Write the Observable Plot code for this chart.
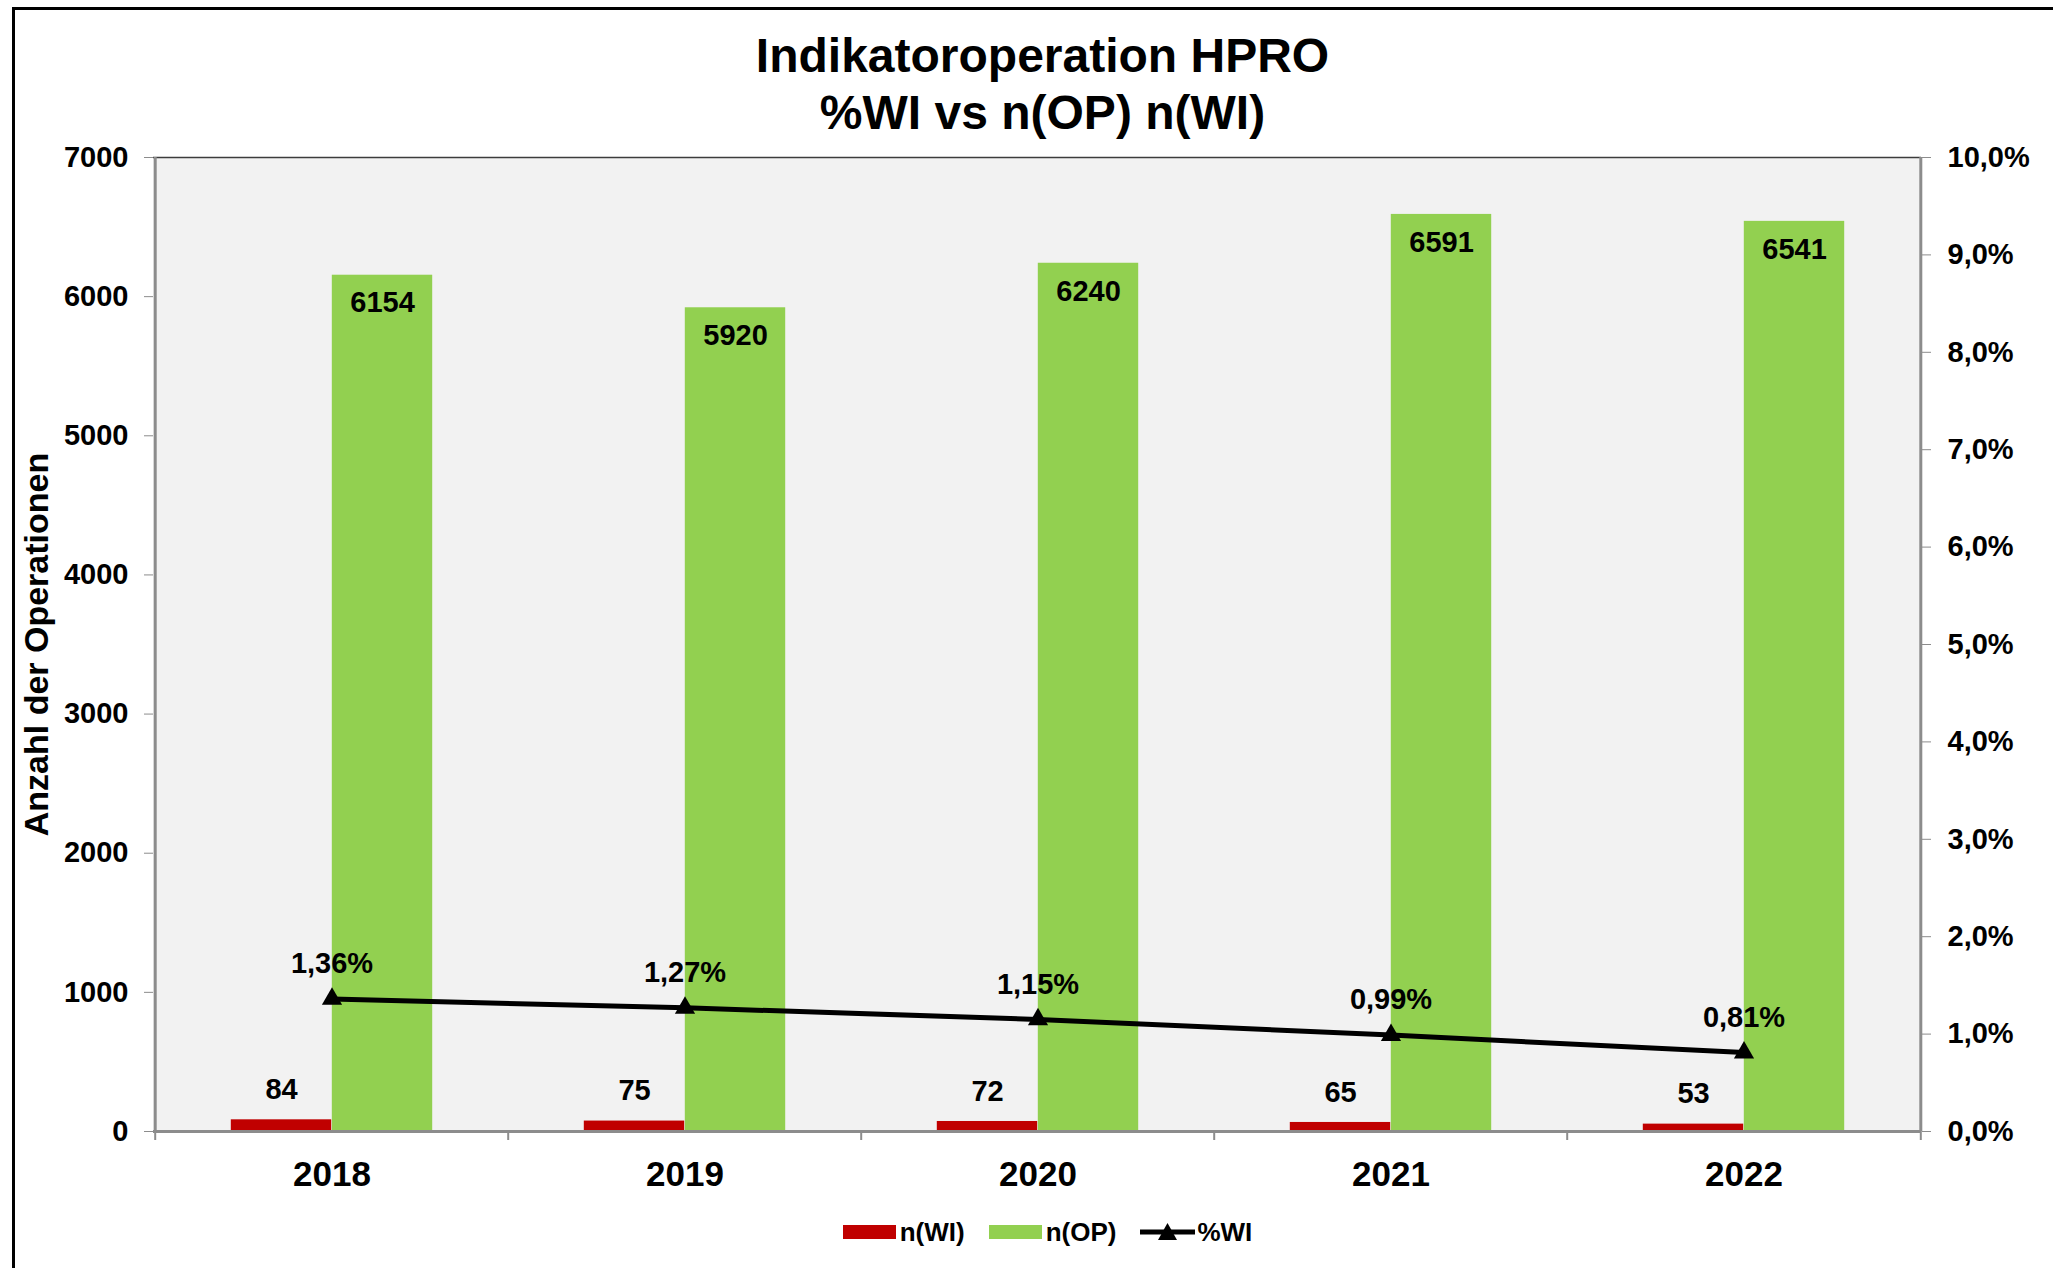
<!DOCTYPE html>
<html>
<head>
<meta charset="utf-8">
<script src="https://cdn.jsdelivr.net/npm/d3@7"></script>
<script src="https://cdn.jsdelivr.net/npm/@observablehq/plot@0.6"></script>
<style>
  html, body { margin: 0; padding: 0; background: #fff; overflow: hidden; }
  body { font-family: "Liberation Sans", Arial, sans-serif; }
  #wrap { position: relative; width: 2053px; height: 1268px; }
  #border { position: absolute; left: 12px; top: 7px; right: -20px; bottom: -20px; border: 3px solid #000; pointer-events: none; }
  #title { position: relative; height: 140px; box-sizing: border-box; padding-top: 27px; padding-left: 32px;
           text-align: center; font-weight: bold; font-size: 48px; line-height: 57px; color: #000; }
  #chart { position: relative; height: 1060px; }
  #legend { position: relative; display: flex; justify-content: center; align-items: center; gap: 0;
            padding-left: 42px; height: 64px; font-weight: bold; font-size: 26px; color: #000; }
  .item { display: flex; align-items: center; margin: 0 12px; }
  .sw { display: inline-block; width: 53px; height: 14px; margin-right: 4px; }
</style>
</head>
<body>
<div id="wrap">
  <div id="border"></div>
  <div id="title">Indikatoroperation HPRO<br>%WI vs n(OP) n(WI)</div>
  <div id="chart"></div>
  <div id="legend"></div>
</div>
<script>
// ---- data ----
const years = ["2018", "2019", "2020", "2021", "2022"];
const nWI = [84, 75, 72, 65, 53];
const nOP = [6154, 5920, 6240, 6591, 6541];
const pctWI = [1.36, 1.27, 1.15, 0.99, 0.81];
const leftTicks = [0, 1000, 2000, 3000, 4000, 5000, 6000, 7000];
const rightTicks = [0, 1, 2, 3, 4, 5, 6, 7, 8, 9, 10];
const seriesNames = ["n(WI)", "n(OP)", "%WI"];
const seriesColors = ["#C00000", "#92D050", "#000000"];

// ---- layout ----
const W = 2053, H = 1060, mL = 153, mR = 132, mT = 17, mB = 69;
const yMax = 7000, pMax = 10;
const bw = (W - mL - mR) / years.length;
const barW = 101;
const toY = p => p * yMax / pMax;

const data = years.map((year, i) => ({year, wi: nWI[i], op: nOP[i], pct: pctWI[i]}));
const axisGray = "#8c8c8c";

const chart = Plot.plot({
  width: W, height: H,
  marginLeft: mL, marginRight: mR, marginTop: mT, marginBottom: mB,
  x: {domain: years, padding: 0, axis: null},
  y: {domain: [0, yMax], axis: null},
  style: {fontFamily: '"Liberation Sans", Arial, sans-serif', fontWeight: "bold", color: "#000", background: "transparent", overflow: "visible"},
  marks: [
    Plot.frame({fill: "#F2F2F2", stroke: null}),
    Plot.ruleY([yMax], {stroke: "#3c3c3c", strokeWidth: 1.5}),
    Plot.barY(data, {x: "year", y: "wi", fill: seriesColors[0], insetLeft: bw / 2 - barW, insetRight: bw / 2}),
    Plot.barY(data, {x: "year", y: "op", fill: seriesColors[1], insetLeft: bw / 2, insetRight: bw / 2 - barW}),
    // axis lines
    Plot.ruleY([0], {stroke: axisGray, strokeWidth: 3}),
    Plot.ruleX([years[0]], {stroke: axisGray, strokeWidth: 3, dx: -bw / 2}),
    Plot.ruleX([years[years.length - 1]], {stroke: axisGray, strokeWidth: 3, dx: bw / 2}),
    // category boundary ticks
    Plot.ruleX(years, {x: d => d, y1: 0, y2: 0, insetTop: 0, insetBottom: -9, dx: -bw / 2, stroke: axisGray, strokeWidth: 2}),
    Plot.ruleX([years[years.length - 1]], {x: d => d, y1: 0, y2: 0, insetTop: 0, insetBottom: -9, dx: bw / 2, stroke: axisGray, strokeWidth: 2}),
    // axes
    Plot.axisY({anchor: "left", ticks: leftTicks, tickFormat: d => String(d), tickSize: 9, tickPadding: 16,
                fontSize: 29, fontWeight: "bold", stroke: axisGray, label: null}),
    Plot.axisY({anchor: "right", ticks: rightTicks.map(toY), tickFormat: d => (d * pMax / yMax).toFixed(1).replace(".", ",") + "%",
                tickSize: 9, tickPadding: 17, fontSize: 29, fontWeight: "bold", stroke: axisGray, label: null}),
    Plot.axisX({anchor: "bottom", tickSize: 0, tickPadding: 30, fontSize: 35, fontWeight: "bold", label: null}),
    Plot.text(["Anzahl der Operationen"], {frameAnchor: "left", textAnchor: "middle", rotate: -90, dx: -116, fontSize: 34, fontWeight: "bold", fill: "#000"}),
    // percentage line
    Plot.line(data, {x: "year", y: d => toY(d.pct), stroke: seriesColors[2], strokeWidth: 5}),
    Plot.dot(data, {x: "year", y: d => toY(d.pct), symbol: "triangle", r: 7.5, fill: "#000", stroke: null}),
    // labels
    Plot.text(data, {x: "year", y: "op", text: d => String(d.op), dx: barW / 2, dy: 28, fontSize: 29, fontWeight: "bold", fill: "#000"}),
    Plot.text(data, {x: "year", y: "wi", text: d => String(d.wi), dx: -barW / 2, dy: -30, fontSize: 29, fontWeight: "bold", fill: "#000"}),
    Plot.text(data, {x: "year", y: d => toY(d.pct), text: d => d.pct.toFixed(2).replace(".", ",") + "%", dy: -35, fontSize: 29, fontWeight: "bold", fill: "#000"})
  ]
});
document.getElementById("chart").appendChild(chart);

// ---- legend ----
const legend = document.getElementById("legend");
seriesNames.forEach((name, i) => {
  const item = document.createElement("div");
  item.className = "item";
  if (i < 2) {
    const sw = document.createElement("span");
    sw.className = "sw";
    sw.style.background = seriesColors[i];
    item.appendChild(sw);
  } else {
    const ns = "http://www.w3.org/2000/svg";
    const svg = document.createElementNS(ns, "svg");
    svg.setAttribute("width", 55); svg.setAttribute("height", 22);
    svg.style.marginRight = "2px";
    const ln = document.createElementNS(ns, "line");
    ln.setAttribute("x1", 0); ln.setAttribute("x2", 55); ln.setAttribute("y1", 11); ln.setAttribute("y2", 11);
    ln.setAttribute("stroke", seriesColors[i]); ln.setAttribute("stroke-width", 5);
    const tri = document.createElementNS(ns, "path");
    tri.setAttribute("d", "M27.5,2 L37,19 L18,19 Z");
    tri.setAttribute("fill", seriesColors[i]);
    svg.appendChild(ln); svg.appendChild(tri);
    item.appendChild(svg);
  }
  const t = document.createElement("span");
  t.textContent = name;
  item.appendChild(t);
  legend.appendChild(item);
});
</script>
</body>
</html>
